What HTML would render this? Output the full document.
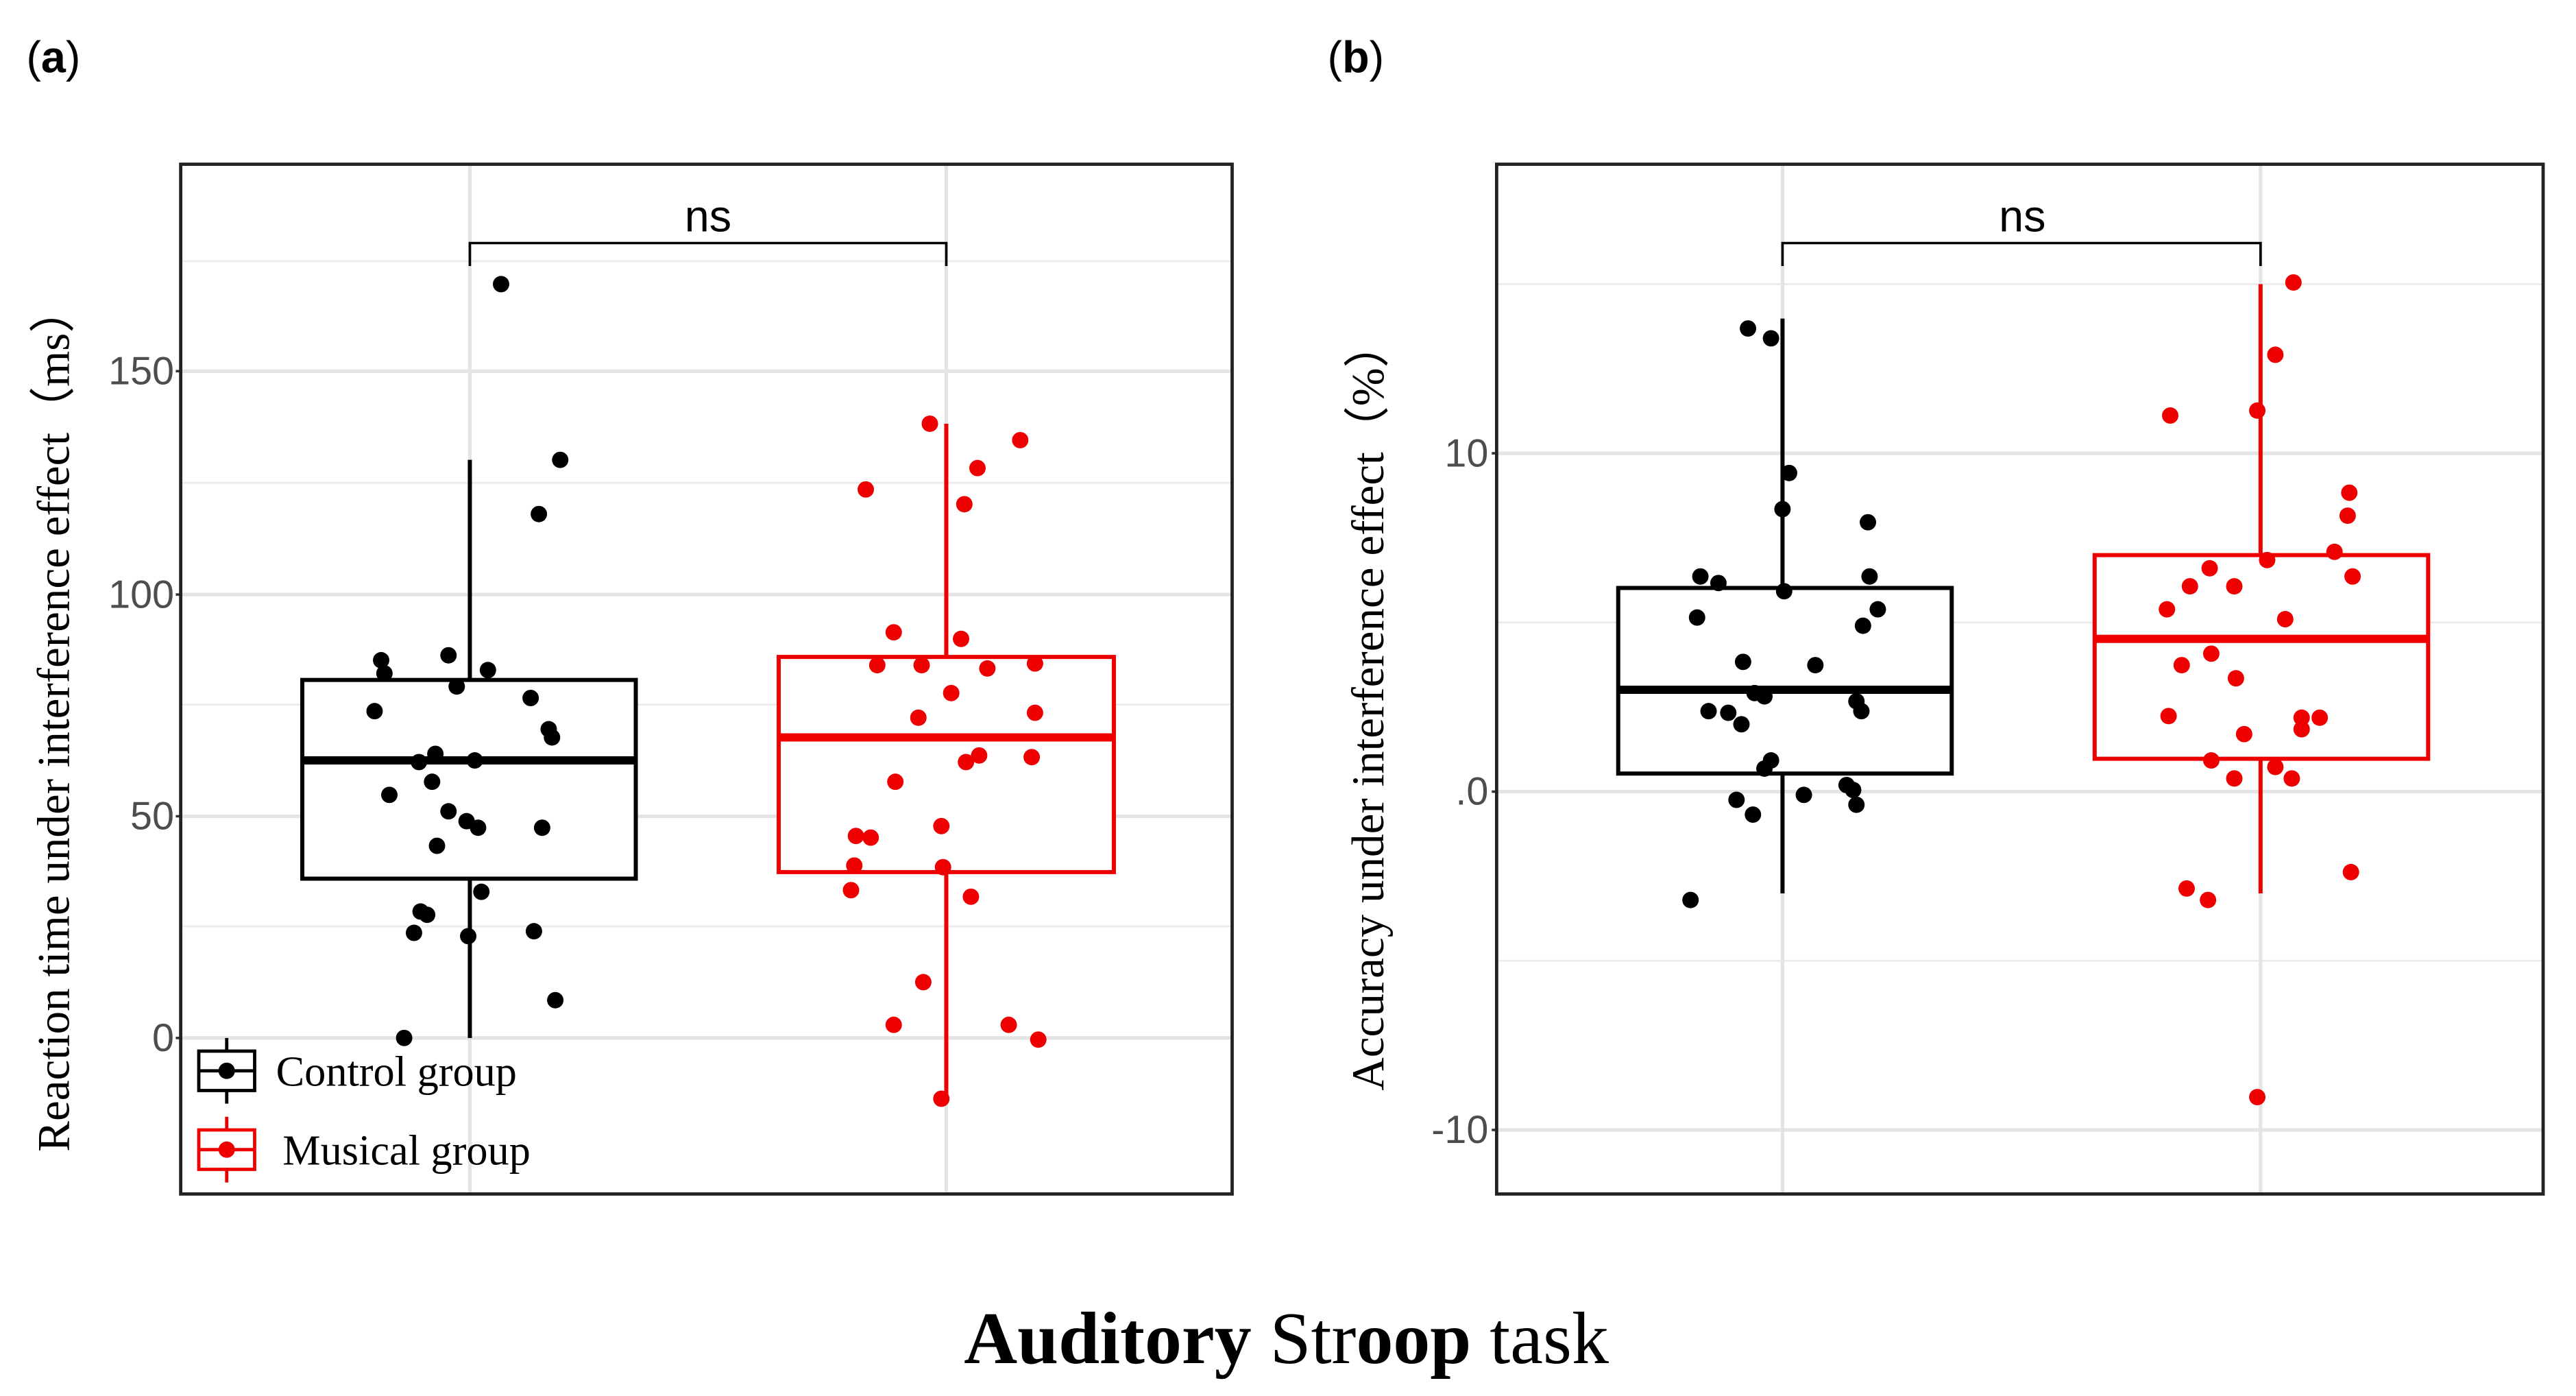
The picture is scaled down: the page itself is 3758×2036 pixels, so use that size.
<!DOCTYPE html>
<html><head><meta charset="utf-8"><style>html,body{margin:0;padding:0;background:#fff}svg{display:block}</style></head>
<body>
<svg width="3758" height="2036" viewBox="0 0 1568 850" preserveAspectRatio="none" xmlns="http://www.w3.org/2000/svg">
<rect width="1568" height="850" fill="#fff"/>
<g font-family="Liberation Sans, sans-serif" font-size="27">
<text x="16" y="44">(<tspan font-weight="bold">a</tspan>)</text>
<text x="808" y="44">(<tspan font-weight="bold">b</tspan>)</text>
</g>
<!-- Panel a -->
<g stroke="#ebebeb" stroke-width="1.2">
<line x1="110" x2="750" y1="159" y2="159"/><line x1="110" x2="750" y1="294" y2="294"/><line x1="110" x2="750" y1="429" y2="429"/><line x1="110" x2="750" y1="564" y2="564"/>
</g>
<g stroke="#e4e4e4" stroke-width="2.2">
<line x1="110" x2="750" y1="226" y2="226"/><line x1="110" x2="750" y1="362" y2="362"/><line x1="110" x2="750" y1="497" y2="497"/><line x1="110" x2="750" y1="632" y2="632"/>
<line x1="286" x2="286" y1="100" y2="727"/><line x1="576" x2="576" y1="100" y2="727"/>
</g>
<g font-family="Liberation Sans, sans-serif" font-size="24" fill="#4d4d4d" text-anchor="end">
<text x="106" y="234">150</text><text x="106" y="370">100</text><text x="106" y="505">50</text><text x="106" y="640">0</text>
</g>
<g stroke="#333" stroke-width="1.5"><line x1="107" x2="110" y1="226" y2="226"/><line x1="107" x2="110" y1="362" y2="362"/><line x1="107" x2="110" y1="497" y2="497"/><line x1="107" x2="110" y1="632" y2="632"/></g>
<path d="M286 162V148H576V162" fill="none" stroke="#000" stroke-width="1.5"/>
<text x="431" y="141" font-family="Liberation Sans, sans-serif" font-size="27" text-anchor="middle">ns</text>
<line x1="286" x2="286" y1="280" y2="632" stroke="#000" stroke-width="2.5"/>
<rect x="184" y="414" width="203" height="121" fill="#fff" stroke="#000" stroke-width="2.5"/>
<line x1="184" x2="387" y1="463" y2="463" stroke="#000" stroke-width="5"/>
<line x1="576" x2="576" y1="258" y2="669" stroke="#e00" stroke-width="2.5"/>
<rect x="474" y="400" width="204" height="131" fill="#fff" stroke="#e00" stroke-width="2.5"/>
<line x1="474" x2="678" y1="449" y2="449" stroke="#e00" stroke-width="5"/>
<g fill="#000">
<circle cx="305" cy="173" r="5"/><circle cx="341" cy="280" r="5"/><circle cx="328" cy="313" r="5"/><circle cx="232" cy="402" r="5"/><circle cx="234" cy="410" r="5"/><circle cx="273" cy="399" r="5"/><circle cx="297" cy="408" r="5"/><circle cx="278" cy="418" r="5"/><circle cx="228" cy="433" r="5"/><circle cx="323" cy="425" r="5"/><circle cx="334" cy="444" r="5"/><circle cx="336" cy="449" r="5"/><circle cx="265" cy="459" r="5"/><circle cx="255" cy="464" r="5"/><circle cx="289" cy="463" r="5"/><circle cx="263" cy="476" r="5"/><circle cx="237" cy="484" r="5"/><circle cx="273" cy="494" r="5"/><circle cx="284" cy="500" r="5"/><circle cx="291" cy="504" r="5"/><circle cx="330" cy="504" r="5"/><circle cx="266" cy="515" r="5"/><circle cx="293" cy="543" r="5"/><circle cx="256" cy="555" r="5"/><circle cx="260" cy="557" r="5"/><circle cx="252" cy="568" r="5"/><circle cx="285" cy="570" r="5"/><circle cx="325" cy="567" r="5"/><circle cx="338" cy="609" r="5"/><circle cx="246" cy="632" r="5"/>
</g>
<g fill="#e00">
<circle cx="566" cy="258" r="5"/><circle cx="621" cy="268" r="5"/><circle cx="595" cy="285" r="5"/><circle cx="527" cy="298" r="5"/><circle cx="587" cy="307" r="5"/><circle cx="544" cy="385" r="5"/><circle cx="585" cy="389" r="5"/><circle cx="534" cy="405" r="5"/><circle cx="561" cy="405" r="5"/><circle cx="601" cy="407" r="5"/><circle cx="630" cy="404" r="5"/><circle cx="579" cy="422" r="5"/><circle cx="559" cy="437" r="5"/><circle cx="630" cy="434" r="5"/><circle cx="596" cy="460" r="5"/><circle cx="588" cy="464" r="5"/><circle cx="628" cy="461" r="5"/><circle cx="545" cy="476" r="5"/><circle cx="573" cy="503" r="5"/><circle cx="521" cy="509" r="5"/><circle cx="530" cy="510" r="5"/><circle cx="520" cy="527" r="5"/><circle cx="574" cy="528" r="5"/><circle cx="518" cy="542" r="5"/><circle cx="591" cy="546" r="5"/><circle cx="562" cy="598" r="5"/><circle cx="544" cy="624" r="5"/><circle cx="614" cy="624" r="5"/><circle cx="632" cy="633" r="5"/><circle cx="573" cy="669" r="5"/>
</g>
<!-- legend -->
<line x1="138" x2="138" y1="632" y2="672" stroke="#000" stroke-width="2"/>
<rect x="121" y="640" width="34" height="24" fill="#fff" stroke="#000" stroke-width="2"/>
<line x1="121" x2="155" y1="652" y2="652" stroke="#000" stroke-width="2"/>
<circle cx="138" cy="652" r="5" fill="#000"/>
<line x1="138" x2="138" y1="680" y2="720" stroke="#e00" stroke-width="2"/>
<rect x="121" y="688" width="34" height="24" fill="#fff" stroke="#e00" stroke-width="2"/>
<line x1="121" x2="155" y1="700" y2="700" stroke="#e00" stroke-width="2"/>
<circle cx="138" cy="700" r="5" fill="#e00"/>
<g font-family="Liberation Serif, serif" font-size="26">
<text x="168" y="661">Control group</text><text x="172" y="709">Musical group</text>
</g>
<rect x="110" y="100" width="640" height="627" fill="none" stroke="#222" stroke-width="2"/>
<text transform="translate(42,438) rotate(-90)" font-family="Liberation Serif, serif" font-size="28" text-anchor="middle">Reaction time under interference effect（ms）</text>

<!-- Panel b -->
<g stroke="#ebebeb" stroke-width="1.2">
<line x1="911" x2="1548" y1="173" y2="173"/><line x1="911" x2="1548" y1="379" y2="379"/><line x1="911" x2="1548" y1="585" y2="585"/>
</g>
<g stroke="#e4e4e4" stroke-width="2.2">
<line x1="911" x2="1548" y1="276" y2="276"/><line x1="911" x2="1548" y1="482" y2="482"/><line x1="911" x2="1548" y1="688" y2="688"/>
<line x1="1085" x2="1085" y1="100" y2="727"/><line x1="1376" x2="1376" y1="100" y2="727"/>
</g>
<g font-family="Liberation Sans, sans-serif" font-size="24" fill="#4d4d4d" text-anchor="end">
<text x="906" y="284">10</text><text x="906" y="490">.0</text><text x="906" y="696">-10</text>
</g>
<g stroke="#333" stroke-width="1.5"><line x1="908" x2="911" y1="276" y2="276"/><line x1="908" x2="911" y1="482" y2="482"/><line x1="908" x2="911" y1="688" y2="688"/></g>
<path d="M1085 162V148H1376V162" fill="none" stroke="#000" stroke-width="1.5"/>
<text x="1231" y="141" font-family="Liberation Sans, sans-serif" font-size="27" text-anchor="middle">ns</text>
<line x1="1085" x2="1085" y1="194" y2="544" stroke="#000" stroke-width="2.5"/>
<rect x="985" y="358" width="203" height="113" fill="#fff" stroke="#000" stroke-width="2.5"/>
<line x1="985" x2="1188" y1="420" y2="420" stroke="#000" stroke-width="5"/>
<line x1="1376" x2="1376" y1="173" y2="544" stroke="#e00" stroke-width="2.5"/>
<rect x="1275" y="338" width="203" height="124" fill="#fff" stroke="#e00" stroke-width="2.5"/>
<line x1="1275" x2="1478" y1="389" y2="389" stroke="#e00" stroke-width="5"/>
<g fill="#000">
<circle cx="1064" cy="200" r="5"/><circle cx="1078" cy="206" r="5"/><circle cx="1089" cy="288" r="5"/><circle cx="1085" cy="310" r="5"/><circle cx="1137" cy="318" r="5"/><circle cx="1035" cy="351" r="5"/><circle cx="1046" cy="355" r="5"/><circle cx="1138" cy="351" r="5"/><circle cx="1086" cy="360" r="5"/><circle cx="1143" cy="371" r="5"/><circle cx="1033" cy="376" r="5"/><circle cx="1134" cy="381" r="5"/><circle cx="1061" cy="403" r="5"/><circle cx="1105" cy="405" r="5"/><circle cx="1068" cy="422" r="5"/><circle cx="1074" cy="424" r="5"/><circle cx="1040" cy="433" r="5"/><circle cx="1052" cy="434" r="5"/><circle cx="1060" cy="441" r="5"/><circle cx="1130" cy="427" r="5"/><circle cx="1133" cy="433" r="5"/><circle cx="1078" cy="463" r="5"/><circle cx="1074" cy="468" r="5"/><circle cx="1124" cy="478" r="5"/><circle cx="1128" cy="481" r="5"/><circle cx="1057" cy="487" r="5"/><circle cx="1098" cy="484" r="5"/><circle cx="1130" cy="490" r="5"/><circle cx="1067" cy="496" r="5"/><circle cx="1029" cy="548" r="5"/>
</g>
<g fill="#e00">
<circle cx="1396" cy="172" r="5"/><circle cx="1385" cy="216" r="5"/><circle cx="1321" cy="253" r="5"/><circle cx="1374" cy="250" r="5"/><circle cx="1430" cy="300" r="5"/><circle cx="1429" cy="314" r="5"/><circle cx="1421" cy="336" r="5"/><circle cx="1380" cy="341" r="5"/><circle cx="1345" cy="346" r="5"/><circle cx="1333" cy="357" r="5"/><circle cx="1360" cy="357" r="5"/><circle cx="1432" cy="351" r="5"/><circle cx="1319" cy="371" r="5"/><circle cx="1391" cy="377" r="5"/><circle cx="1346" cy="398" r="5"/><circle cx="1328" cy="405" r="5"/><circle cx="1361" cy="413" r="5"/><circle cx="1320" cy="436" r="5"/><circle cx="1401" cy="437" r="5"/><circle cx="1412" cy="437" r="5"/><circle cx="1401" cy="444" r="5"/><circle cx="1366" cy="447" r="5"/><circle cx="1346" cy="463" r="5"/><circle cx="1385" cy="467" r="5"/><circle cx="1395" cy="474" r="5"/><circle cx="1360" cy="474" r="5"/><circle cx="1431" cy="531" r="5"/><circle cx="1331" cy="541" r="5"/><circle cx="1344" cy="548" r="5"/><circle cx="1374" cy="668" r="5"/>
</g>
<rect x="911" y="100" width="637" height="627" fill="none" stroke="#222" stroke-width="2"/>
<text transform="translate(842,430) rotate(-90)" font-family="Liberation Serif, serif" font-size="28" text-anchor="middle">Accuracy under interference effect（%）</text>

<text x="783" y="830" font-family="Liberation Serif, serif" font-size="45" text-anchor="middle"><tspan font-weight="bold">Auditory</tspan> Str<tspan font-weight="bold">oop</tspan> task</text>
</svg>
</body></html>
